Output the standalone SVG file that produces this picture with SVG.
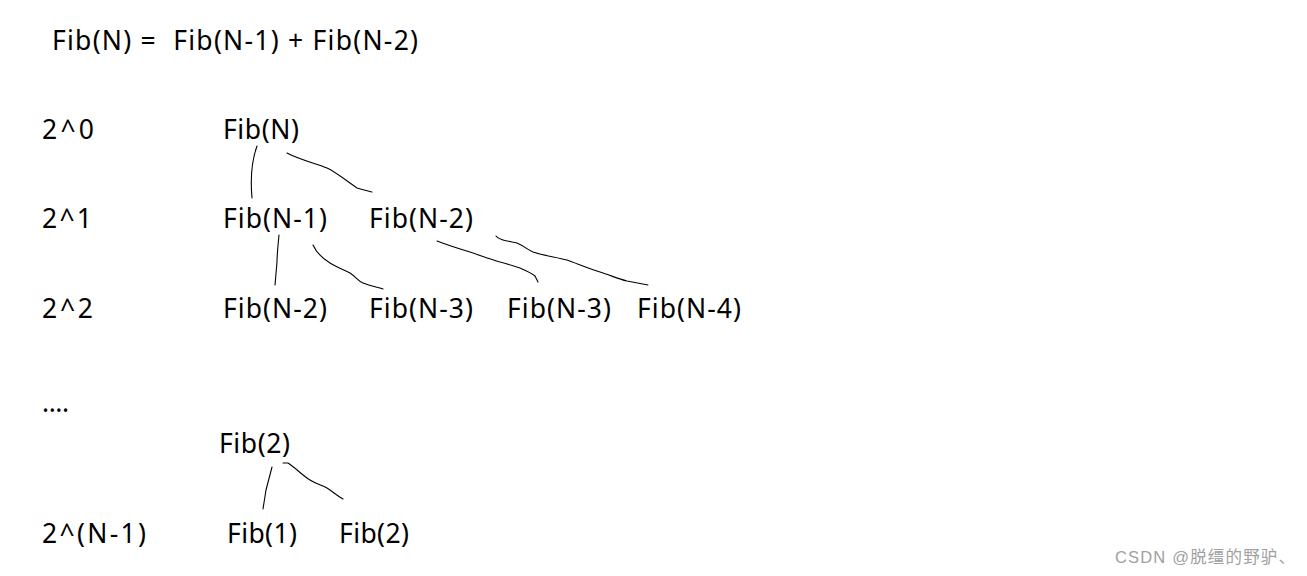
<svg xmlns="http://www.w3.org/2000/svg" width="1307" height="576" viewBox="0 0 1307 576">
<style>
.t{font-family:"Noto Sans","Open Sans","DejaVu Sans",sans-serif;font-size:26.5px;fill:#000}
.w{font-family:"Liberation Sans","Noto Sans CJK SC",sans-serif;font-size:16.5px;fill:#a0a0a0}
.c{fill:none;stroke:#000;stroke-width:1.1;stroke-linecap:round;stroke-linejoin:round}
</style>
<rect width="1307" height="576" fill="#fff"/>
<text class="t" x="52" y="50" textLength="366" lengthAdjust="spacing" xml:space="preserve">Fib(N) =  Fib(N-1) + Fib(N-2)</text>
<g id="levels">
<text class="t" x="42" y="139" textLength="52" lengthAdjust="spacing">2^0</text>
<text class="t" x="42" y="228" textLength="50" lengthAdjust="spacing">2^1</text>
<text class="t" x="42" y="318" textLength="51" lengthAdjust="spacing">2^2</text>
<text class="t" x="42" y="412" textLength="27" lengthAdjust="spacing">....</text>
<text class="t" x="42" y="543" textLength="104" lengthAdjust="spacing">2^(N-1)</text>
</g>
<g id="n0"><text class="t" x="223" y="139" textLength="76" lengthAdjust="spacing">Fib(N)</text></g>
<g id="n1"><text class="t" x="223" y="228" textLength="104" lengthAdjust="spacing">Fib(N-1)</text></g>
<g id="n2"><text class="t" x="369" y="228" textLength="104" lengthAdjust="spacing">Fib(N-2)</text></g>
<g id="n3"><text class="t" x="223" y="318" textLength="104" lengthAdjust="spacing">Fib(N-2)</text></g>
<g id="n4"><text class="t" x="369" y="318" textLength="104" lengthAdjust="spacing">Fib(N-3)</text></g>
<g id="n5"><text class="t" x="507" y="318" textLength="104" lengthAdjust="spacing">Fib(N-3)</text></g>
<g id="n6"><text class="t" x="637" y="318" textLength="104" lengthAdjust="spacing">Fib(N-4)</text></g>
<g id="n7"><text class="t" x="219" y="453" textLength="71" lengthAdjust="spacing">Fib(2)</text></g>
<g id="n8"><text class="t" x="227" y="543" textLength="70" lengthAdjust="spacing">Fib(1)</text></g>
<g id="n9"><text class="t" x="339" y="543" textLength="70" lengthAdjust="spacing">Fib(2)</text></g>
<g id="connectors">
<path class="c" d="M257,146 C252,160 250,176 252,198"/>
<path class="c" d="M287,153 C300,160 318,164 327,168 C336,172 348,182 357,188 C363,190 368,191 372,192"/>
<path class="c" d="M279,235 C278,245 277,255 277,262 L275,285"/>
<path class="c" d="M313,245 C316,252 322,258 330,263 C338,268 345,270 350,273 C356,277 358,281 363,283 C370,286 378,287 383,289"/>
<path class="c" d="M437,241 C450,246 460,249 470,252 C482,256 490,259 500,262 C508,264 514,266 520,268 C527,271 532,273 535,276 L538,282"/>
<path class="c" d="M496,236 C498,239 502,240 517,243 C524,246 528,250 533,252 C545,256 556,257 567,260 C578,264 590,269 600,272 C610,275 618,279 627,281 L648,285"/>
<path class="c" d="M272,467 L266,490 L263,509"/>
<path class="c" d="M283,463 L288,463 C296,468 303,476 310,480 C316,484 322,485 327,488 C333,492 338,496 343,499"/>
</g>
<text class="w" x="1115" y="563" textLength="180" lengthAdjust="spacing">CSDN @脱缰的野驴、</text>
</svg>
